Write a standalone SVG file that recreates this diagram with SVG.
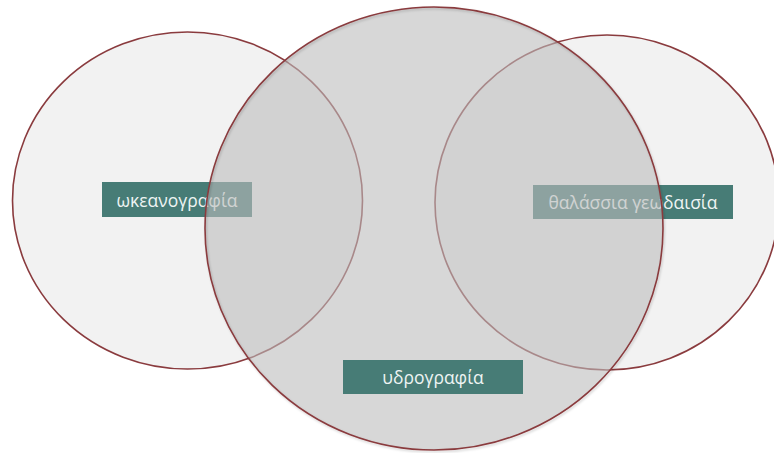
<svg xmlns="http://www.w3.org/2000/svg" width="774" height="453" viewBox="0 0 774 453">
  <style>
    .outer { fill: #f2f2f2; stroke: #8a3b3e; stroke-width: 1.6; }
    .mid { fill: #bdbdbd; fill-opacity: 0.6; stroke: none; }
    .ring { fill: none; stroke: #8a3b3e; stroke-width: 1.6; }
    .lab { fill: #477c76; }
    .txt { fill: #eef4f3; font-family: "Open Sans", "Noto Sans", "DejaVu Sans", sans-serif; font-size: 17.5px; font-weight: 500; text-anchor: middle; dominant-baseline: central; }
  </style>
  <defs>
    <filter id="sh" x="-5%" y="-5%" width="110%" height="110%">
      <feDropShadow dx="1" dy="1.5" stdDeviation="1.2" flood-color="#000" flood-opacity="0.2"/>
    </filter>
  </defs>
  <rect width="774" height="453" fill="#ffffff"/>
  <g id="node-left">
    <ellipse class="outer" cx="187.5" cy="200.5" rx="175" ry="168.5"/>
    <rect class="lab" x="102" y="182" width="150" height="35"/>
    <text class="txt" x="177" y="199.5">ωκεανογραφία</text>
  </g>
  <g id="node-right">
    <ellipse class="outer" cx="607" cy="202.5" rx="172" ry="167.5"/>
    <rect class="lab" x="533" y="185" width="200" height="34"/>
    <text class="txt" x="633" y="202">θαλάσσια γεωδαισία</text>
  </g>
  <g id="node-middle">
    <ellipse class="mid" cx="434" cy="228.5" rx="229" ry="221.5"/>
    <ellipse class="ring" cx="434" cy="228.5" rx="229" ry="221.5" filter="url(#sh)"/>
    <rect class="lab" x="343" y="360" width="180" height="34"/>
    <text class="txt" x="433" y="377">υδρογραφία</text>
  </g>
  <g id="connectors"/>
</svg>
